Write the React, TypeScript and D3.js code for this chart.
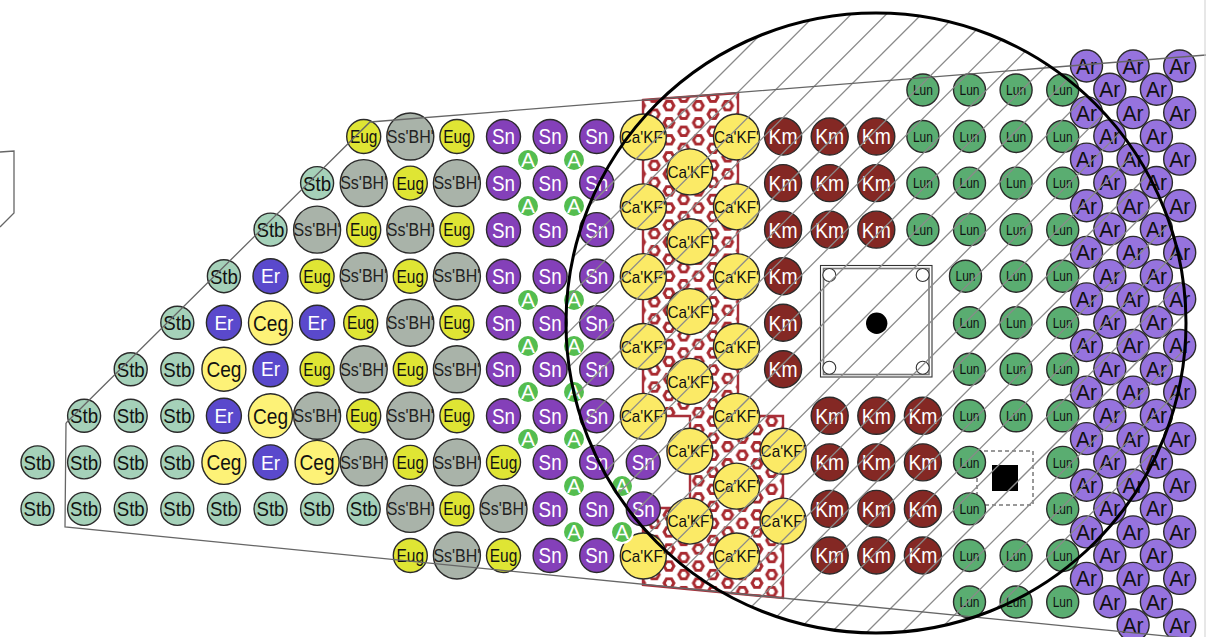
import React from "react";
import * as d3 from "d3";

const WIDTH = 1206;
const HEIGHT = 637;

// Occupied grid cells, row by row (row -1 to 10, column 0 to 22)
const gridRows = [
  "...................LLLL",
  ".......USUNNN...KKKLLLL",
  "......TSUSNNN...KKKLLLL",
  ".....TSUSUNNN...KKKLLLL",
  "....TEUSUSNNN...K...LLL",
  "...TECEUSUNNN...K...LLL",
  "..TTCEUSUSNNN...K...LLL",
  ".TTTECSUSUNNN....KKKLLL",
  "TTTTCECSUSUNNN...KKKL.L",
  "TTTTTTTTSUSNNN...KKKL.L",
  "........USUNN....KKKLLL",
  "....................LLL",
];
// [row, column, x nudge]
const nudges = [
  [3, 20, -4],
  [4, 7, -3],
];
// Ca'KF' staggered band: [half-step row, column]
const caKfCells = [
  [0, 13], [0, 15], [1, 14], [2, 13], [2, 15], [3, 14], [4, 13], [4, 15],
  [5, 14], [6, 13], [6, 15], [7, 14], [8, 13], [8, 15], [9, 14], [9, 16],
  [10, 15], [11, 14], [11, 16], [12, 13], [12, 15],
];
// "A" minor sites
const aSites = [
  [528, 160], [574, 160], [528, 206], [574, 206], [528, 300], [574, 300],
  [528, 346], [574, 346], [528, 392], [574, 392], [528, 439], [574, 439],
  [574, 486], [622, 486], [574, 532], [622, 532],
];
// Ar lattice rows
const arMainCols = [0, 1, 2];
const arOffsetCols = [0, 1];
const arMainRows = [0, 1, 2, 3, 4, 5, 6, 7, 8, 9, 10, 11, 12];
const arOffsetRows = [0, 1, 2, 3, 4, 5, 6, 7, 8, 9, 10, 11];

const regionOutline = [
  [66, 423], [370, 122], [1206, 55],
];
const regionBottom = [
  [66, 423], [65, 527], [1206, 640],
];
const leftFragment = [
  [0, 152], [14, 151], [14, 213], [0, 227],
];
const caKfZone = [
  [643, 100], [738, 93], [738, 416], [783, 416], [783, 598], [643, 585],
  [643, 508], [690, 508], [690, 416], [643, 416],
];
const hatchOffsets = d3.range(0, 28);
const columnCorners = [
  [829.3, 275], [922.7, 275], [829.3, 367.7], [922.7, 367.7],
];

type Style = { label: string; r: number; fill: string; text: string; fs: number; w: number };
const kinds: Record<string, Style> = {
  T: { label: "Stb", r: 16.5, fill: "#a5d1b9", text: "#111", fs: 21, w: 28 },
  E: { label: "Er", r: 17.5, fill: "#5a49cc", text: "#fff", fs: 20, w: 19 },
  C: { label: "Ceg", r: 22, fill: "#fdf277", text: "#111", fs: 22, w: 35 },
  U: { label: "Eug", r: 17, fill: "#dfe534", text: "#111", fs: 18, w: 27.5 },
  S: { label: "Ss'BH'", r: 23.5, fill: "#a9b3a9", text: "#222", fs: 17.5, w: 47 },
  N: { label: "Sn", r: 17, fill: "#8440b9", text: "#fff", fs: 22, w: 23 },
  K: { label: "Km", r: 18.5, fill: "#842824", text: "#fff", fs: 22, w: 29 },
  L: { label: "Lun", r: 16, fill: "#5aad71", text: "#111", fs: 14.5, w: 20 },
  R: { label: "Ar", r: 16, fill: "#9673de", text: "#111", fs: 22, w: 21 },
  F: { label: "Ca'KF'", r: 23, fill: "#fbea66", text: "#111", fs: 17, w: 45 },
  A: { label: "A", r: 10, fill: "#54bd4f", text: "#fff", fs: 20, w: 14 },
};

const x = d3.scaleLinear().domain([0, 22]).range([37.5, 1062.7]);
const y = d3.scaleLinear().domain([-1, 10]).range([90, 602]);
const yCa = d3.scaleLinear().domain([0, 12]).range([137, 556]);
const xAr = d3.scaleLinear().domain([0, 2]).range([1086.5, 1179.7]);
const yAr = d3.scaleLinear().domain([0, 12]).range([66, 625]);
const hatchSum = d3.scaleLinear().domain([0, 1]).range([795, 830.2]);

const line = d3.line();
const closed = d3.line().curve(d3.curveLinearClosed);

function Atom({ cx, cy, k }: { cx: number; cy: number; k: string }) {
  const s = kinds[k];
  return (
    <g>
      {k === "A" && <circle cx={cx} cy={cy} r={s.r + 2} fill="#fff" />}
      <circle cx={cx} cy={cy} r={s.r} fill={s.fill} stroke={k === "A" ? "none" : "#2b2b2b"} strokeWidth={1.4} />
      <text
        x={cx}
        y={cy + s.fs * 0.36}
        textAnchor="middle"
        fontFamily="'Liberation Sans', Arial, sans-serif"
        fontSize={s.fs}
        fill={s.text}
        textLength={s.w}
        lengthAdjust="spacingAndGlyphs"
      >
        {s.label}
      </text>
    </g>
  );
}

export default function App() {
  const hexPoints = d3.range(6).map((i) => {
    const a = (i * Math.PI) / 3;
    return [4.9 * Math.cos(a), 4.9 * Math.sin(a)] as [number, number];
  });
  const hexPath = closed(hexPoints) as string;
  const atoms: { cx: number; cy: number; k: string; key: string }[] = [];
  gridRows.forEach((row, ri) => {
    row.split("").forEach((k, c) => {
      if (k === ".") return;
      const n = nudges.find((m) => m[0] === ri - 1 && m[1] === c);
      atoms.push({ cx: x(c) + (n ? n[2] : 0), cy: y(ri - 1), k, key: `g${ri}-${c}` });
    });
  });
  arMainRows.forEach((r) => {
    arMainCols.forEach((c) => {
      if (r === 12 && c === 0) return;
      atoms.push({ cx: xAr(c), cy: yAr(r), k: "R", key: `rm${r}-${c}` });
    });
  });
  arOffsetRows.forEach((r) => {
    arOffsetCols.forEach((c) => {
      atoms.push({ cx: xAr(c + 0.5), cy: yAr(r + 0.5), k: "R", key: `ro${r}-${c}` });
    });
  });

  return (
    <svg
      width={WIDTH}
      height={HEIGHT}
      viewBox={`0 0 ${WIDTH} ${HEIGHT}`}
      style={{ position: "absolute", left: 0, top: 0, background: "#fff" }}
    >
      <defs>
        <pattern id="hexes" patternUnits="userSpaceOnUse" width={29.33} height={17.05} x={669} y={105.7}>
          <rect width={29.33} height={17.05} fill="#fff" />
          {[[0, 0], [29.33, 0], [0, 17.05], [29.33, 17.05], [14.67, 8.52]].map(([hx, hy], i) => (
            <path key={i} d={hexPath} transform={`translate(${hx},${hy})`} fill="none" stroke="#a92a30" strokeWidth={3} />
          ))}
        </pattern>
        <clipPath id="disc">
          <circle cx={876} cy={323} r={310} />
        </clipPath>
      </defs>

      <path d={closed(caKfZone as [number, number][]) as string} fill="url(#hexes)" stroke="#a9303a" strokeWidth={2.4} />

      <rect x={977} y={451} width={56} height={54} fill="#fff" stroke="#333" strokeWidth={1} strokeDasharray="4 3" />
      <rect x={992} y={465} width={26} height={26} fill="#000" />

      {atoms.map((a) => (
        <Atom key={a.key} cx={a.cx} cy={a.cy} k={a.k} />
      ))}
      {caKfCells.map(([r, c]) => (
        <Atom key={`f${r}-${c}`} cx={x(c)} cy={yCa(r)} k="F" />
      ))}
      {aSites.map(([ax, ay]) => (
        <Atom key={`a${ax}-${ay}`} cx={ax} cy={ay} k="A" />
      ))}

      <rect x={820.5} y={265.5} width={111.5} height={111.5} fill="none" stroke="#333" strokeWidth={1.1} />
      <rect x={823.5} y={268.5} width={105.5} height={106} fill="none" stroke="#777" strokeWidth={1.6} />
      {columnCorners.map(([cx, cy]) => (
        <circle key={`${cx}-${cy}`} cx={cx} cy={cy} r={6.5} fill="#fff" stroke="#333" strokeWidth={1.1} />
      ))}
      <circle cx={876.7} cy={323.3} r={10.7} fill="#000" />

      <g clipPath="url(#disc)" stroke="#8a8a8a" strokeWidth={1.3}>
        {hatchOffsets.map((k) => {
          const s = hatchSum(k);
          return <line key={k} x1={s} y1={0} x2={s - 700} y2={700} />;
        })}
      </g>

      <g fill="none" stroke="#666" strokeWidth={1.3}>
        <path d={line(regionOutline as [number, number][]) as string} />
        <path d={line(regionBottom as [number, number][]) as string} />
        <path d={line(leftFragment as [number, number][]) as string} />
      </g>
      <line x1={1205} y1={0} x2={1205} y2={637} stroke="#cfcfcf" strokeWidth={1} />
      <circle cx={876} cy={323} r={310} fill="none" stroke="#000" strokeWidth={3} />
    </svg>
  );
}
